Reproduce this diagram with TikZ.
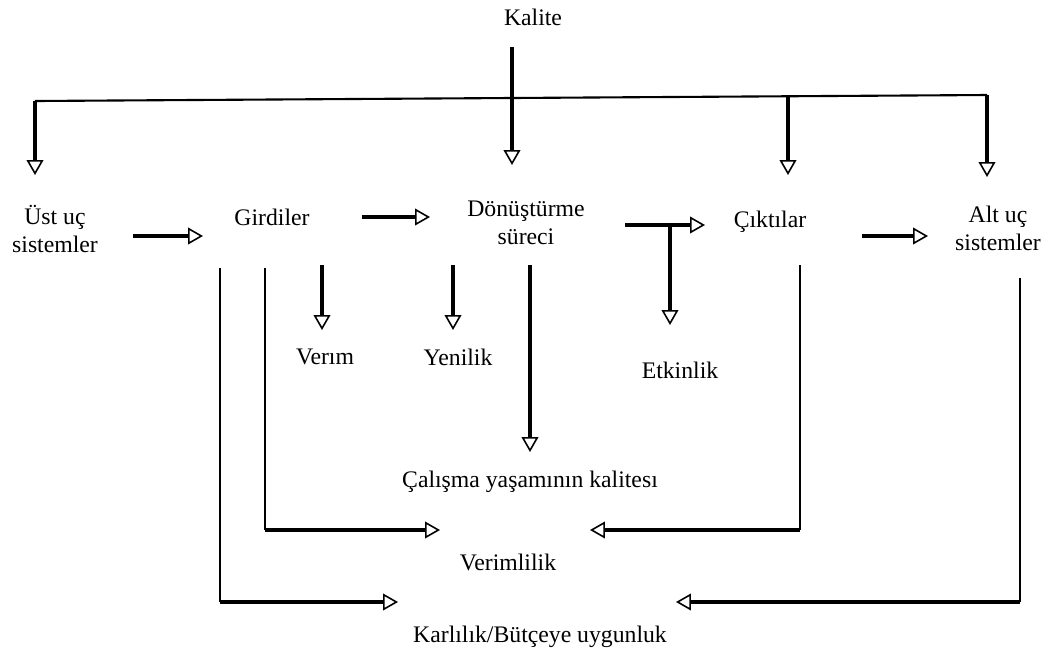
\documentclass[tikz,border=0pt]{standalone}
\usepackage{fontspec}
\setmainfont{Liberation Serif}
\usetikzlibrary{arrows.meta}
\begin{document}
\begin{tikzpicture}[x=0.02cm,y=-0.02cm,
        lbl/.style={font=\fontsize{13.5}{16}\selectfont, align=center, inner sep=0pt},
        flow/.style={line width=2pt, -{Triangle[open, length=8.5pt, width=9.5pt, line width=0.9pt]}},
        thin/.style={line width=1pt}]
        \useasboundingbox (0,0) rectangle (1045,657);
        % nodes
        \node[lbl] (kalite) at (533,17) {Kalite};
        \node[lbl] (ust) at (55,229) {Üst uç\\sistemler};
        \node[lbl] (girdiler) at (272,217) {Girdiler};
        \node[lbl] (donusum) at (526,223) {Dönüştürme\\süreci};
        \node[lbl] (ciktilar) at (770,222) {Çıktılar};
        \node[lbl] (alt) at (998,228) {Alt uç\\sistemler};
        \node[lbl] (verim) at (325,357) {Verım};
        \node[lbl] (yenilik) at (458,357) {Yenilik};
        \node[lbl] (etkinlik) at (680,370) {Etkinlik};
        \node[lbl] (calisma) at (530,482) {Çalışma yaşamının kalitesı};
        \node[lbl] (verimlilik) at (508,562) {Verimlilik};
        \node[lbl] (karlilik) at (540,637) {Karlılık/Bütçeye uygunluk};
        % top line
        \coordinate (bus-l) at (35,101);
        \coordinate (bus-c) at (788,96.3);
        \coordinate (bus-r) at (987,95);
        \draw[line width=1.2pt] (bus-l) -- (bus-r);
        \draw[flow] (bus-l) -- (35,175);
        \draw[flow] (bus-c) -- (788,175);
        \draw[flow] (bus-r) -- (987,177);
        \coordinate (kal-out) at (512,47);
        \draw[flow] (kal-out) -- (512,165);
        % main chain
        \draw[flow] (133,236) -- (203,236);
        \draw[flow] (362,217) -- (430,217);
        \draw[flow] (625,225) -- (705,225);
        \draw[flow] (862,236) -- (928,236);
        \draw[flow] (670,225) -- (670,325);
        % outcomes
        \draw[flow] (322,265) -- (322,330);
        \draw[flow] (453,265) -- (453,330);
        \draw[flow] (530,265) -- (530,452);
        % feedback
        \draw[thin] (220,268) -- (220,602);
        \draw[flow] (220,602) -- (398,602);
        \draw[thin] (265,268) -- (265,530);
        \draw[flow] (265,530) -- (440,530);
        \draw[thin] (800,265) -- (800,530);
        \draw[flow] (800,530) -- (590,530);
        \draw[thin] (1020,278) -- (1020,602);
        \draw[flow] (1020,602) -- (676,602);
\end{tikzpicture}
\end{document}
